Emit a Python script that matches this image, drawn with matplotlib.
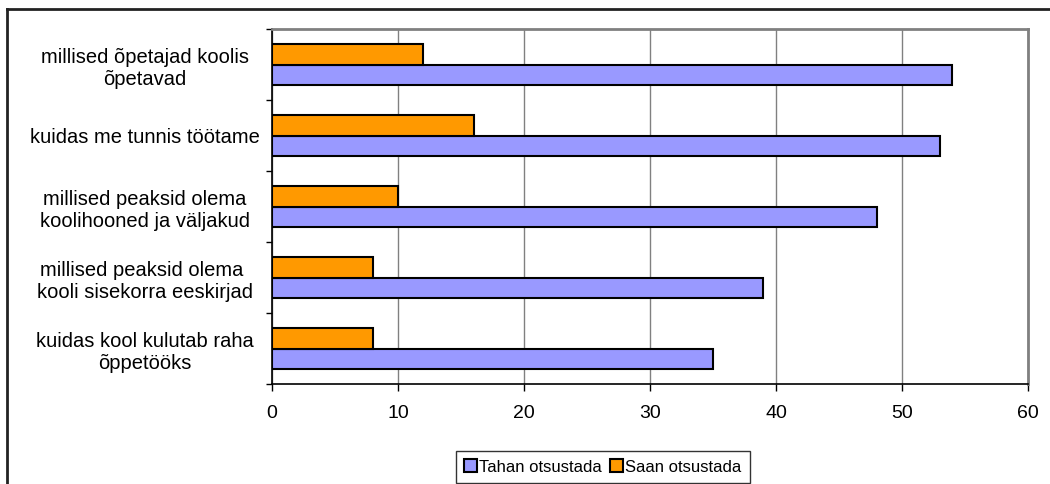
import numpy as np
import matplotlib.pyplot as plt
from matplotlib.lines import Line2D

plt.rcParams['font.family'] = ['Liberation Sans', 'DejaVu Sans']

categories = ["millised õpetajad koolis\nõpetavad",
              "kuidas me tunnis töötame",
              "millised peaksid olema\nkoolihooned ja väljakud",
              "millised peaksid olema \nkooli sisekorra eeskirjad",
              "kuidas kool kulutab raha\nõppetööks"]
tahan = [54, 53, 48, 39, 35]
saan = [12, 16, 10, 8, 8]
x_ticks = [0, 10, 20, 30, 40, 50, 60]

fig = plt.figure(figsize=(10.5, 4.84), dpi=100)
ax = fig.add_axes([0.259, 0.2066, 0.72, 0.7334])

y = np.arange(len(categories))[::-1]
h = 0.295
ax.barh(y - h / 2, tahan, height=h, color='#9999FF', edgecolor='black', linewidth=1.5, label='Tahan otsustada', zorder=3)
ax.barh(y + h / 2, saan, height=h, color='#FF9900', edgecolor='black', linewidth=1.5, label='Saan otsustada', zorder=3)

ax.set_xlim(0, 60)
ax.set_ylim(-0.5, len(categories) - 0.5)
ax.set_xticks(x_ticks)
ax.tick_params(axis='x', labelsize=14, length=5, width=1, pad=10)
ax.xaxis.grid(True, color='#808080', linewidth=1, zorder=0)

# category ticks sit on the group boundaries, labels in the middle
ax.set_yticks(np.arange(len(categories) + 1) - 0.5)
ax.set_yticklabels([])
ax.set_yticks(y, minor=True)
ax.set_yticklabels(categories, minor=True, fontsize=14.5, ha='center', linespacing=1.2)
ax.tick_params(axis='y', which='major', length=4, width=1)
ax.tick_params(axis='y', which='minor', length=0, pad=91.5)

ax.spines['left'].set_color('black')
ax.spines['bottom'].set_color('black')
ax.spines['left'].set_linewidth(1.2)
ax.spines['bottom'].set_linewidth(1.2)
ax.spines['top'].set_color('#808080')
ax.spines['right'].set_color('#808080')
ax.spines['top'].set_linewidth(2)
ax.spines['right'].set_linewidth(2)

leg = ax.legend(loc='center', bbox_to_anchor=(0.574, 0.035), bbox_transform=fig.transFigure,
                ncol=2, frameon=True, fancybox=False, fontsize=12, handlelength=0.8, handleheight=0.8,
                handletextpad=0.1, columnspacing=0.5, borderpad=0.5, borderaxespad=0)
leg.get_frame().set_edgecolor('black')
leg.get_frame().set_linewidth(1)

# outer chart border, runs off the right and bottom edges
fig.add_artist(Line2D([7 / 1050, 7 / 1050], [1 - 9 / 484, 0], color='#222222', linewidth=2))
fig.add_artist(Line2D([7 / 1050, 1], [1 - 9 / 484, 1 - 9 / 484], color='#222222', linewidth=2))

fig.savefig('out.png', dpi=100)
